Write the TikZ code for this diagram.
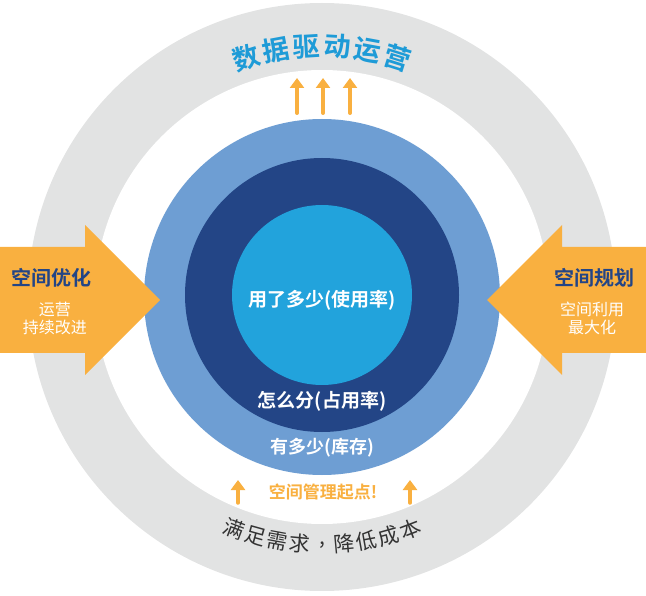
\documentclass[tikz,border=0pt]{standalone}
\usepackage{fontspec}
\usetikzlibrary{arrows.meta,calc}
\newfontfamily\cjk{Noto Sans CJK SC}
\newfontfamily\cjkb{Noto Sans CJK SC Bold}
\definecolor{ring}{HTML}{E2E3E3}
\definecolor{lblue}{HTML}{6E9ED3}
\definecolor{navy}{HTML}{234586}
\definecolor{cyan}{HTML}{22A3DC}
\definecolor{orng}{HTML}{F9B040}
\definecolor{tblue}{HTML}{1E9BD7}
\definecolor{dark}{HTML}{333333}
\begin{document}
\begin{tikzpicture}[x=1pt,y=-1pt,
  wt/.style={text=white,font=\cjkb\fontsize{19}{19}\selectfont,inner sep=0},
  up/.style={draw=orng,line width=4pt,line cap=round,-{Triangle[length=10pt,width=14pt]}},
  bigarrow/.style={fill=orng}]
\useasboundingbox (0,0) rectangle (646,596);
\coordinate (c) at (322,297);
\fill[ring] (c) circle (294);
\fill[white] (c) circle (227);
\fill[lblue] (c) circle (178);
\fill[navy] (322,295) circle (137);
\fill[cyan] (322,295) circle (90);
% side arrows
\fill[bigarrow] (0,247) -- (85,247) -- (85,225) -- (160,300) -- (85,375) -- (85,353) -- (0,353) -- cycle;
\fill[bigarrow] (646,247) -- (562,247) -- (562,225) -- (487,300) -- (562,375) -- (562,353) -- (646,353) -- cycle;
\node[font=\cjkb\fontsize{20}{20}\selectfont,text=navy] (lt) at (52,278) {空间优化};
\node[font=\cjk\fontsize{16}{16}\selectfont,text=white,align=center] (ls) at (55,318) {运营\\[2pt]持续改进};
\node[font=\cjkb\fontsize{20}{20}\selectfont,text=navy] (rt) at (594,278) {空间规划};
\node[font=\cjk\fontsize{16}{16}\selectfont,text=white,align=center] (rs) at (592,318) {空间利用\\[2pt]最大化};
% center texts
\node[wt] (t1) at (322,300) {用了多少(使用率)};
\node[wt] (t2) at (322,401) {怎么分(占用率)};
\node[wt,font=\cjkb\fontsize{18}{18}\selectfont] (t3) at (322,448) {有多少(库存)};
% up arrows top
\foreach \x/\n in {297/a,323/b,350/c}{
  \coordinate (s\n) at (\x,113); \coordinate (e\n) at (\x,78);
  \draw[up] (s\n) -- (e\n);}
% start label
\node[font=\cjkb\fontsize{17}{17}\selectfont,text=orng] (st) at (323,492) {空间管理起点!};
\coordinate (la) at (238,503); \coordinate (lb) at (238,480);
\coordinate (ra) at (410,503); \coordinate (rb) at (410,480);
\draw[up,line width=3.5pt] (la) -- (lb);
\draw[up,line width=3.5pt] (ra) -- (rb);
% curved title
\foreach \ch [count=\i] in {数,据,驱,动,运,营}{
  \pgfmathsetmacro\ang{90-7.0*(3.5-\i)}
  \node[font=\cjkb\fontsize{27}{27}\selectfont,text=tblue,rotate=90-\ang,inner sep=0]
    (h\i) at ($(c)+(\ang:-251)$) {\ch};}
% curved bottom text
\foreach \ch [count=\i] in {满,足,需,求,{,},降,低,成,本}{
  \pgfmathsetmacro\ang{-90+5.2*(5-\i)}
  \node[font=\cjk\fontsize{21}{21}\selectfont,text=dark,rotate=-90-\ang,inner sep=0]
    (b\i) at ($(c)+(\ang:-248)$) {\ch};}
\end{tikzpicture}
\end{document}
